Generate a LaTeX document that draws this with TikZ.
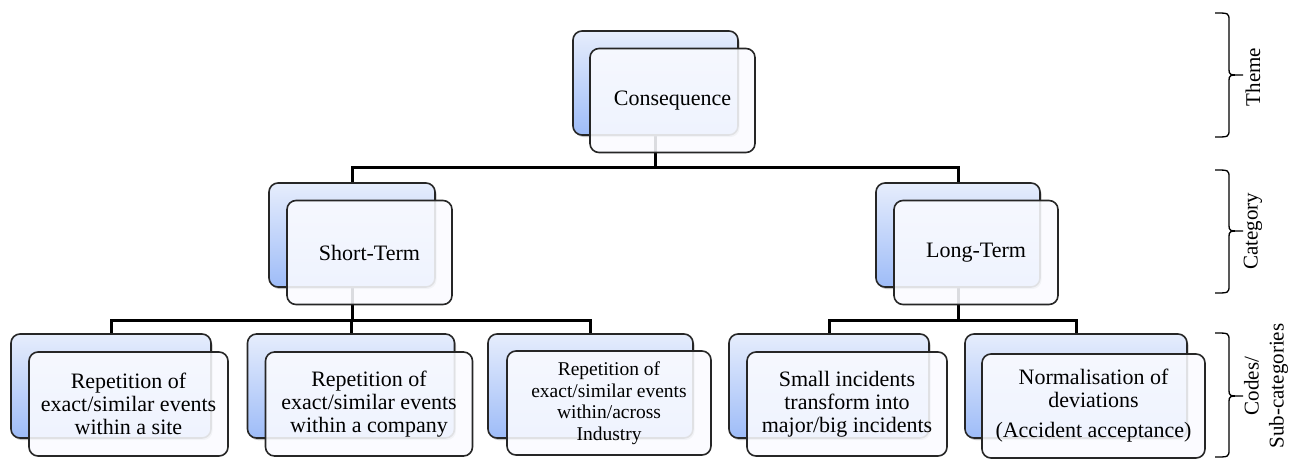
\documentclass[tikz,border=0pt]{standalone}
\usepackage{fontspec}
\setmainfont{Liberation Serif}
\usetikzlibrary{shadows,calc}
\pgfdeclarelayer{background}
\pgfsetlayers{background,main}
\definecolor{bluetop}{RGB}{230,237,252}
\definecolor{bluebot}{RGB}{158,188,248}
\definecolor{frontfill}{RGB}{250,251,255}
\tikzset{
  backbox/.style={draw=black!85, line width=1.6pt, rounded corners=9pt,
    top color=bluetop, bottom color=bluebot,
    drop shadow={shadow xshift=1.5pt, shadow yshift=-2pt, opacity=0.35, fill=black!70},
    inner sep=0pt, minimum height=104pt},
  frontbox/.style={draw=black!85, line width=1.6pt, rounded corners=9pt,
    fill=frontfill, fill opacity=0.88, text opacity=1,
    inner sep=0pt, minimum height=104pt, align=center,
    font=\fontsize{22}{23}\selectfont},
  conn/.style={line width=3pt, black},
  bracestyle/.style={line width=1.3pt, black},
  sidelabel/.style={rotate=90, align=center, font=\fontsize{21}{25}\selectfont}
}
% right brace from top y to bottom y, base x = 1215
\newcommand{\myRightBrace}[3]{%
  \draw[bracestyle] (1215,#1) .. controls (1229,#1) .. (1229,{#1+8})
    -- (1229,{#3-6}) .. controls (1229,#3) .. (1243,#3)
    .. controls (1229,#3) .. (1229,{#3+6})
    -- (1229,{#2-8}) .. controls (1229,#2) .. (1215,#2);}
\begin{document}
\begin{tikzpicture}[x=1pt,y=-1pt]
\useasboundingbox (0,0) rectangle (1298,458);
% Theme
\node[backbox, minimum width=165pt] (conB) at (655.5,83) {};
\node[frontbox, minimum width=165pt] (conF) at (672.5,100.5) {Consequence};
% Category
\node[backbox, minimum width=166pt] (stB) at (352,235) {};
\node[frontbox, minimum width=165pt] (stF) at (369.5,252.5) {Short-Term};
\node[backbox, minimum width=164pt] (ltB) at (958,235) {};
\node[frontbox, minimum width=164pt] (ltF) at (976,252.5) {Long-Term};
% Codes
\node[backbox, minimum width=200pt] (b1B) at (111,386) {};
\node[frontbox, minimum width=199pt] (b1F) at (128.5,404) {Repetition of\\exact/similar events\\within a site};
\node[backbox, minimum width=207pt] (b2B) at (351,386) {};
\node[frontbox, minimum width=207pt] (b2F) at (369,404) {Repetition of\\exact/similar events\\within a company};
\node[backbox, minimum width=205pt] (b3B) at (590.5,386) {};
\node[frontbox, minimum width=204pt, font=\fontsize{19.5}{21.5}\selectfont] (b3F) at (609,403) {Repetition of\\exact/similar events\\within/across\\Industry};
\node[backbox, minimum width=200pt] (b4B) at (829,386) {};
\node[frontbox, minimum width=200pt] (b4F) at (847,404) {Small incidents\\transform into\\major/big incidents};
\node[backbox, minimum width=222pt] (b5B) at (1076,386) {};
\node[frontbox, minimum width=223pt] (b5F) at (1093.5,406) {Normalisation of\\deviations\\[7pt](Accident acceptance)};
% connector levels
\coordinate (h1) at (0,167);
\coordinate (h2) at (0,320);
\begin{pgfonlayer}{background}
\draw[conn] (conB.south) -- (conB.south |- h1) -| (stB.north);
\draw[conn] (conB.south |- h1) -| (ltB.north);
\draw[conn] (stB.south) -- (stB.south |- h2) -| (b1B.north);
\draw[conn] (stB.south |- h2) -| (b2B.north);
\draw[conn] (stB.south |- h2) -| (b3B.north);
\draw[conn] (ltB.south) -- (ltB.south |- h2) -| (b4B.north);
\draw[conn] (ltB.south |- h2) -| (b5B.north);
\end{pgfonlayer}
% braces
\myRightBrace{13}{137}{75}
\myRightBrace{170}{293}{231}
\myRightBrace{333}{457}{396}
\node[sidelabel] (thL) at (1253,77) {Theme};
\node[sidelabel] (caL) at (1253,231) {Category};
\node[sidelabel] (coL) at (1266,386) {Codes/\\Sub-categories};
\end{tikzpicture}
\end{document}
